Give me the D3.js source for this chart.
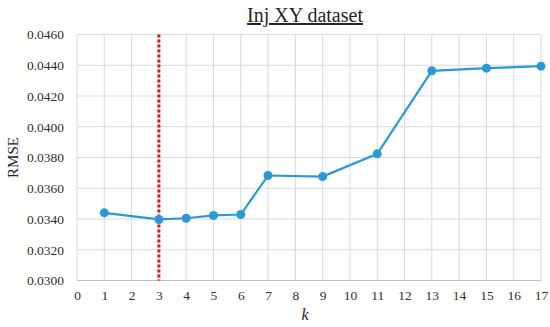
<!DOCTYPE html>
<html><head><meta charset="utf-8">
<script src="https://cdn.jsdelivr.net/npm/d3@7"></script>
<style>body{margin:0;background:#fff}svg{display:block}
.tl text{font-family:'Liberation Serif','Times New Roman',serif;font-size:13.5px;fill:#303030}</style>
</head><body>
<svg id="c" width="550" height="327"></svg>
<script>
const kValues = [1, 3, 4, 5, 6, 7, 9, 11, 13, 15, 17];
const rmseValues = [0.0344, 0.03397, 0.03405, 0.03423, 0.03429, 0.03683, 0.03676, 0.03824, 0.04364, 0.04381, 0.04394];
const xTicks = d3.range(0, 18);
const yTicks = [0.030, 0.032, 0.034, 0.036, 0.038, 0.040, 0.042, 0.044, 0.046];
const bestK = 3;

const svg = d3.select("#c");
const m = {l: 77, r: 9, t: 34.5, b: 46.5};
const W = 550, H = 327;
const x = d3.scaleLinear().domain([0, 17]).range([m.l, W - m.r]);
const y = d3.scaleLinear().domain([0.030, 0.046]).range([H - m.b, m.t]);
const font = "'Liberation Serif','Times New Roman',serif";

svg.append("g").selectAll("line").data(xTicks).join("line")
  .attr("x1", d => x(d)).attr("x2", d => x(d)).attr("y1", y(0.046)).attr("y2", y(0.030))
  .attr("stroke", "#d9d9d9").attr("stroke-width", 1);
svg.append("g").selectAll("line").data(yTicks).join("line")
  .attr("x1", x(0)).attr("x2", x(17)).attr("y1", d => y(d)).attr("y2", d => y(d))
  .attr("stroke", "#d9d9d9").attr("stroke-width", 1);
svg.append("line").attr("x1", x(0)).attr("x2", x(17)).attr("y1", y(0.030)).attr("y2", y(0.030))
  .attr("stroke", "#bfbfbf").attr("stroke-width", 1.2);

const ya = svg.append("g").attr("class", "tl").attr("transform", `translate(${x(0)},0)`)
  .call(d3.axisLeft(y).tickValues(yTicks).tickFormat(d3.format(".4f")).tickSize(0).tickPadding(13))
  .attr("font-family", font).attr("font-size", 13.5);
ya.select(".domain").remove();

const xa = svg.append("g").attr("class", "tl").attr("transform", `translate(0,${y(0.030)})`)
  .call(d3.axisBottom(x).tickValues(xTicks).tickFormat(d3.format("d")).tickSize(0).tickPadding(10))
  .attr("font-family", font).attr("font-size", 13.5);
xa.select(".domain").remove();

svg.append("line").attr("x1", x(bestK)).attr("x2", x(bestK)).attr("y1", y(0.046)).attr("y2", y(0.030))
  .attr("stroke", "#e0141e").attr("stroke-width", 3).attr("stroke-dasharray", "3,2");

const pts = kValues.map((k, i) => [k, rmseValues[i]]);
svg.append("path").datum(pts)
  .attr("d", d3.line().x(d => x(d[0])).y(d => y(d[1])))
  .attr("fill", "none").attr("stroke", "#2a9ad6").attr("stroke-width", 2.2);
svg.append("g").selectAll("circle").data(pts).join("circle")
  .attr("cx", d => x(d[0])).attr("cy", d => y(d[1])).attr("r", 4.5).attr("fill", "#2a9ad6");

svg.append("text").attr("x", 305).attr("y", 22).attr("text-anchor", "middle")
  .style("font-family", font).style("font-size", "20px").attr("fill", "#262626")
  .attr("text-decoration", "underline").text("Inj XY dataset");

svg.append("text").attr("transform", `translate(18,${(y(0.030)+y(0.046))/2}) rotate(-90)`)
  .attr("text-anchor", "middle").style("font-family", font).style("font-size", "15px").attr("fill", "#262626").text("RMSE");
svg.append("text").attr("x", 305).attr("y", 320).attr("text-anchor", "middle")
  .style("font-family", font).style("font-size", "16px").style("font-style", "italic").attr("fill", "#262626").text("k");
</script>
</body></html>
